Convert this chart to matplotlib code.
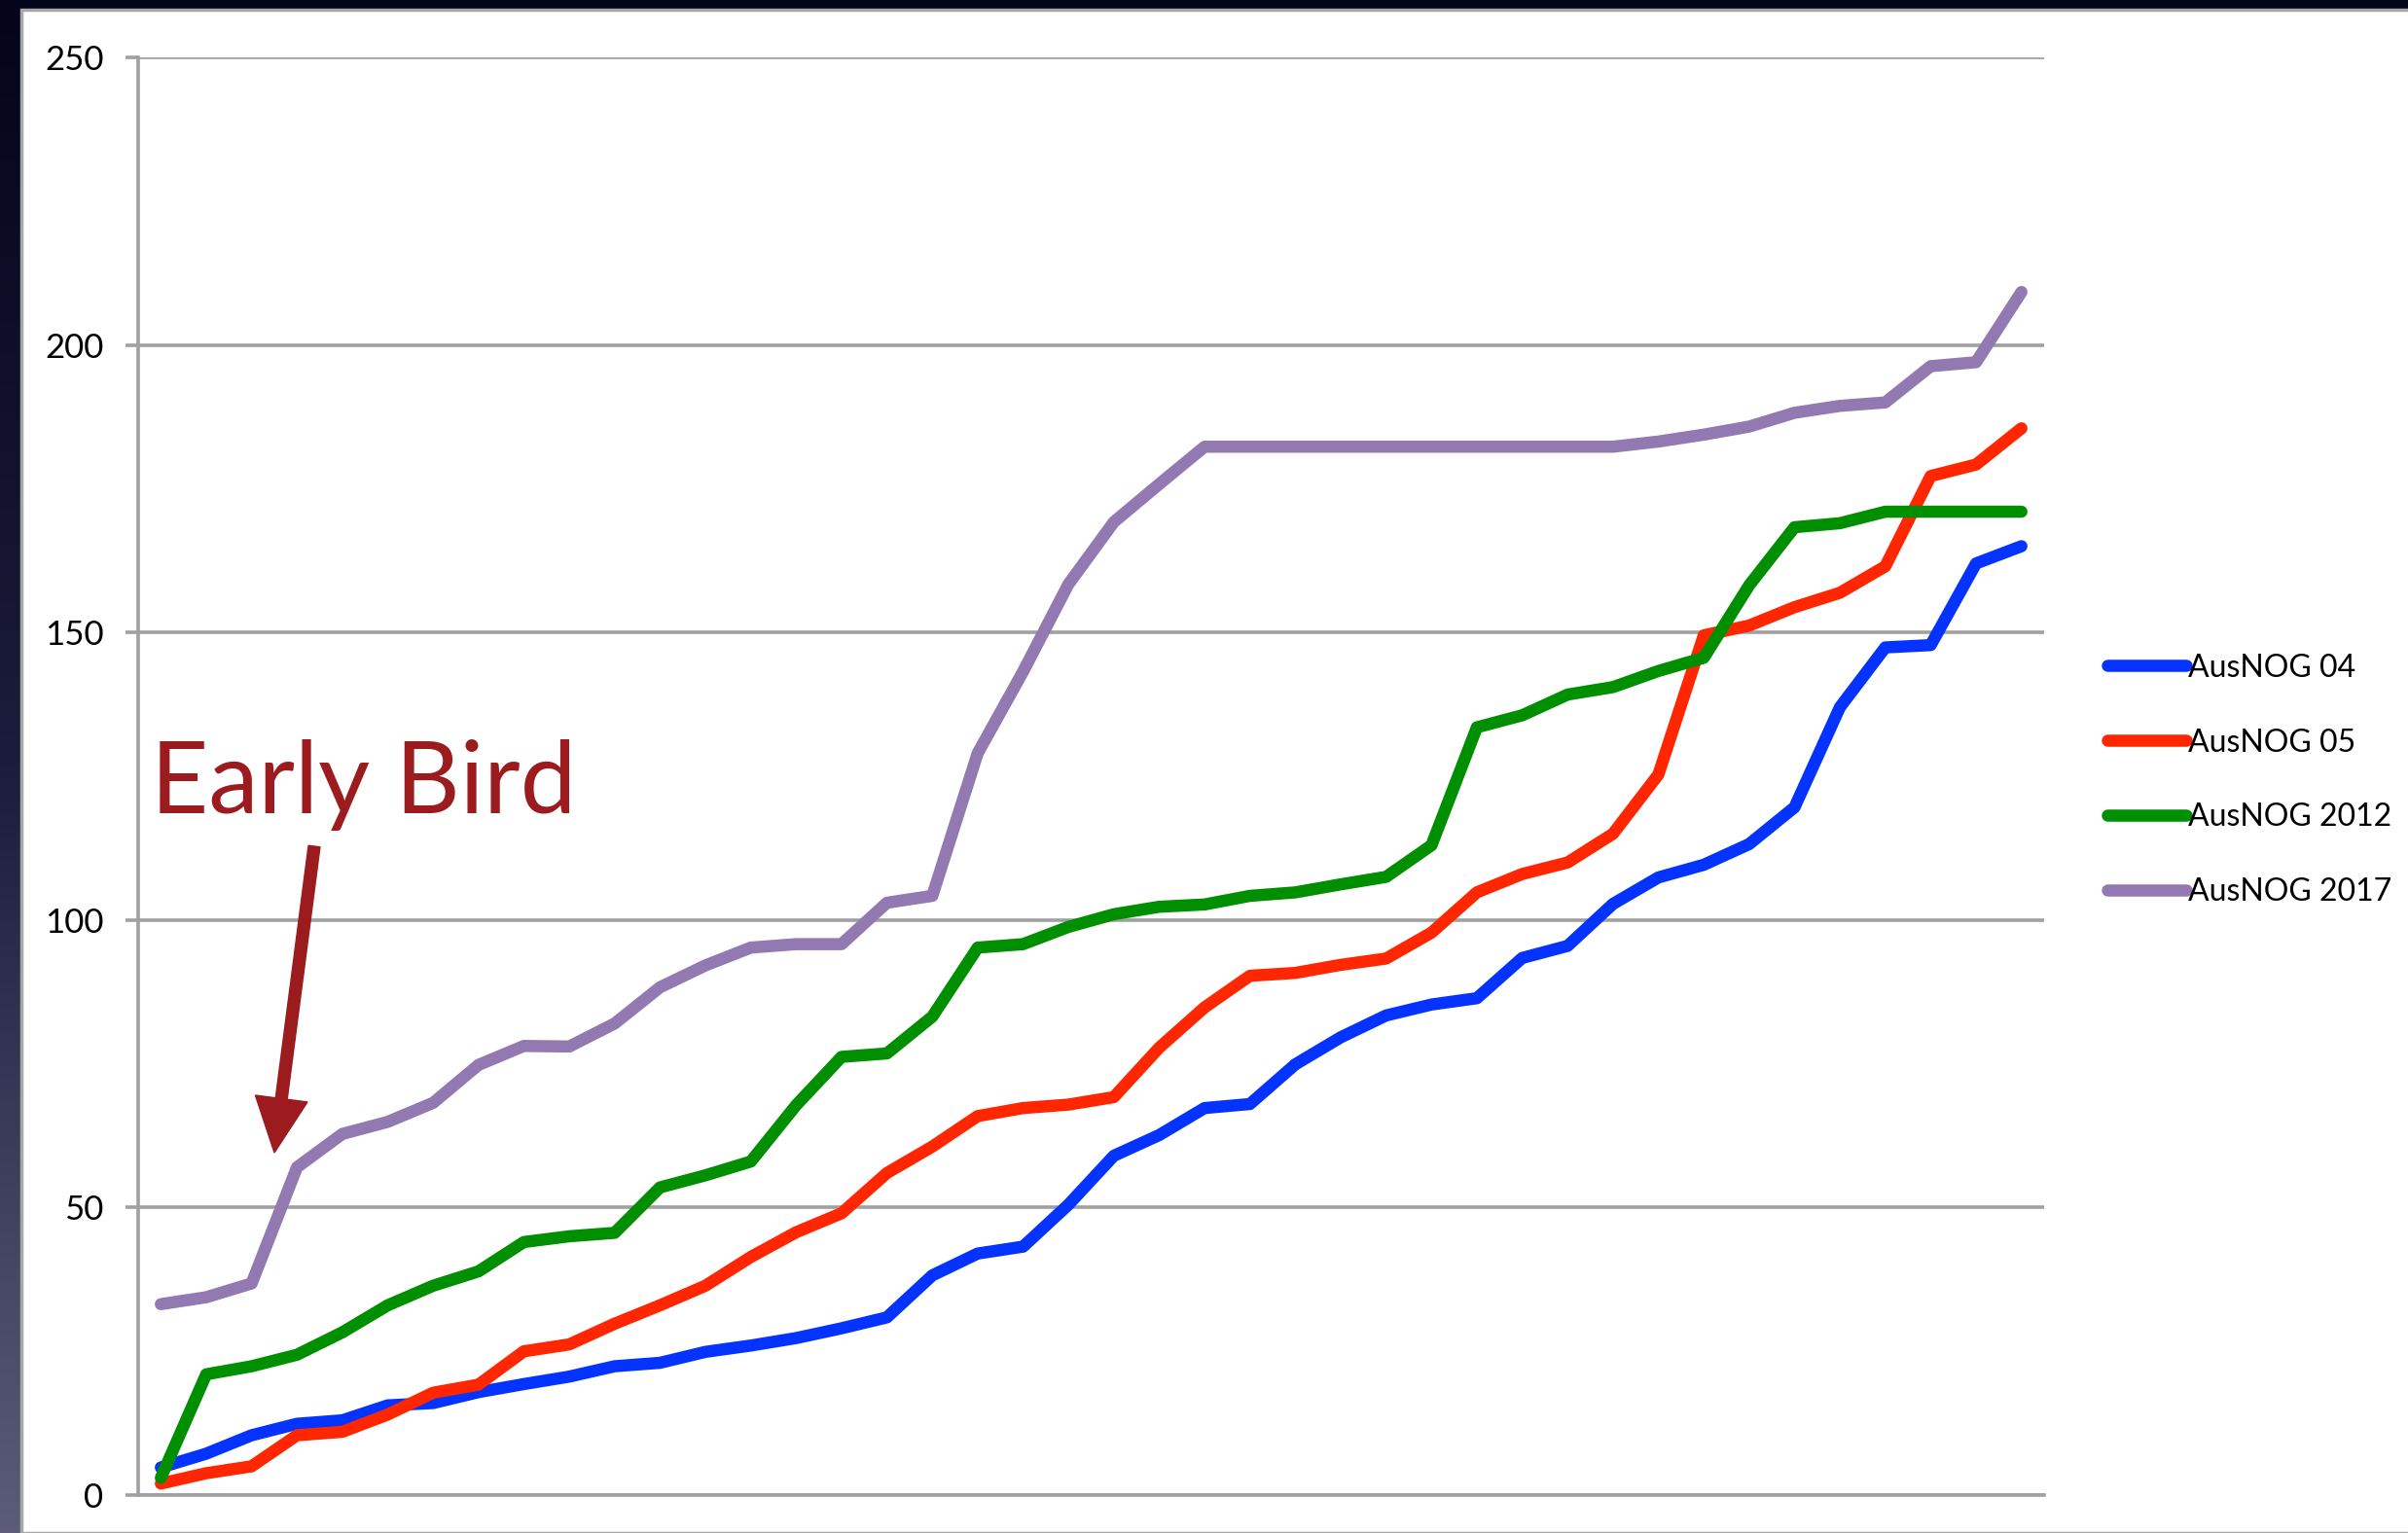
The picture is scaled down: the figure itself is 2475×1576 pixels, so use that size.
import numpy as np
import matplotlib
matplotlib.use("Agg")
from matplotlib import pyplot as plt
from matplotlib.patches import Rectangle, FancyArrow
from matplotlib.transforms import IdentityTransform

plt.rcParams["font.family"] = ["Lato", "DejaVu Sans"]

# registrations per week (42 points per event)
ausnog_04 = [4.8, 7.2, 10.4, 12.4, 13, 15.6, 16, 17.9, 19.3, 20.6, 22.4, 23, 24.9, 26, 27.3, 29, 30.9,
             38.2, 42, 43.2, 50.5, 59, 62.6, 67.3, 68, 74.9, 79.6, 83.4, 85.3, 86.4, 93.4, 95.5,
             102.8, 107.4, 109.6, 113.2, 119.6, 137, 147.4, 147.8, 162, 165]
ausnog_05 = [2, 3.8, 5, 10.4, 11, 14, 17.8, 19.2, 25, 26.2, 29.8, 33, 36.4, 41.4, 45.7, 49, 56, 60.6,
             65.9, 67.3, 67.9, 69.2, 77.8, 84.8, 90.3, 90.8, 92.2, 93.3, 97.8, 104.8, 108, 110,
             115, 125.3, 149.5, 151.2, 154.4, 156.9, 161.5, 177.2, 179.2, 185.5]
ausnog_2012 = [3, 21, 22.4, 24.4, 28.3, 33, 36.4, 38.9, 44, 45, 45.6, 53.5, 55.6, 58, 67.8, 76.2, 76.8,
               83.2, 95.2, 95.8, 98.8, 101, 102.3, 102.7, 104.2, 104.8, 106.2, 107.5, 113, 133.5,
               135.6, 139.2, 140.5, 143.3, 145.6, 158.2, 168.3, 169, 171, 171, 171, 171]
ausnog_2017 = [33.2, 34.4, 36.8, 57, 62.8, 64.9, 68.2, 74.8, 78.1, 78, 82, 88.3, 92.1, 95.2, 95.8,
               95.8, 103, 104.2, 129, 143.2, 158.4, 169.2, 175.8, 182.3, 182.3, 182.3, 182.3, 182.3,
               182.3, 182.3, 182.3, 182.3, 182.3, 183.2, 184.4, 185.8, 188.2, 189.4, 190, 196.3,
               197, 209.2]

series = [("AusNOG 04", ausnog_04, "#0433FF"),
          ("AusNOG 05", ausnog_05, "#FF2600"),
          ("AusNOG 2012", ausnog_2012, "#008F00"),
          ("AusNOG 2017", ausnog_2017, "#9279B2")]

W, H = 2475, 1576
fig = plt.figure(figsize=(W / 100, H / 100), dpi=100)

# slide background: dark gradient (dark at top) with white panel
bg = fig.add_axes([0, 0, 1, 1], zorder=-10)
grad = np.linspace(0, 1, 256).reshape(-1, 1)
cmap = matplotlib.colors.LinearSegmentedColormap.from_list(
    "slide", ["#04041a", "#1c1c3c", "#5c5c7a"])
bg.imshow(grad, cmap=cmap, aspect="auto", extent=[0, 1, 0, 1], origin="upper")
bg.add_patch(Rectangle((22 / W, 0), 1, 1 - 10 / H, facecolor="white",
                       edgecolor="#a8a8a8", linewidth=2.5))
bg.set_xlim(0, 1)
bg.set_ylim(0, 1)
bg.axis("off")

ax = fig.add_axes([142 / W, 1 - 1537 / H, (2101 - 142) / W, (1537 - 59) / H])
ax.patch.set_alpha(0)
x = np.arange(len(ausnog_04))
for name, vals, col in series:
    ax.plot(x, vals, color=col, lw=9, label=name, solid_capstyle="round",
            solid_joinstyle="round")

ax.set_xlim(-0.5, len(x) - 0.5)
ax.set_ylim(0, 250)
ax.set_yticks(np.arange(0, 251, 50))
ax.set_xticks([])
ax.yaxis.grid(True, color="#a0a0a0", lw=2.6)
ax.set_axisbelow(True)
for s in ["top", "right"]:
    ax.spines[s].set_visible(False)
for s in ["left", "bottom"]:
    ax.spines[s].set_color("#a0a0a0")
    ax.spines[s].set_linewidth(2.6)
ax.tick_params(axis="y", length=9.5, width=2.6, color="#a0a0a0", labelsize=25, pad=16)

ax.legend(loc="center left", bbox_to_anchor=(2150 / W, 1 - 802 / H),
          bbox_transform=fig.transFigure, frameon=False, fontsize=23,
          handlelength=2.55, handletextpad=0.05, labelspacing=1.47, borderpad=0)

fig.text(155 / W, 1 - 836 / H, "Early Bird", color="#9b1b1e", fontsize=74,
         va="baseline", ha="left")
fig.add_artist(FancyArrow(323, H - 870, 282 - 323, (H - 1185) - (H - 870), width=12,
                          head_width=54, head_length=56, length_includes_head=True,
                          color="#9b1b1e", transform=IdentityTransform()))

fig.savefig("out.png", dpi=100)
